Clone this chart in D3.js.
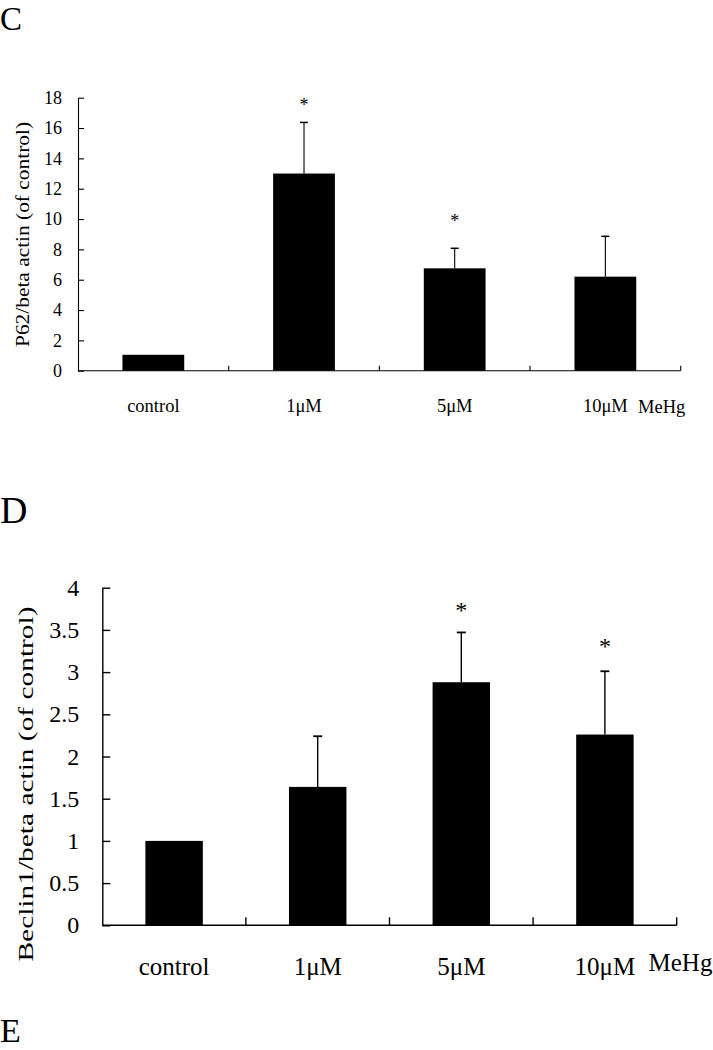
<!DOCTYPE html>
<html>
<head>
<meta charset="utf-8">
<script src="https://cdn.jsdelivr.net/npm/d3@7"></script>
<style>
  body { margin: 0; background: #fff; }
  svg { display: block; }
</style>
</head>
<body>
<div id="chart"></div>
<script>
var SERIF = "'Liberation Serif', 'Times New Roman', serif";

// groups on the x axis (same for both panels)
var categories = ["control", "1\u03bcM", "5\u03bcM", "10\u03bcM"];

// panel C: P62 / beta actin
var p62Values = [1.05, 13.0, 6.75, 6.2];
var p62Errors = [0, 3.37, 1.32, 2.66];
var p62Stars = [null, 17.65, 10.0, null];
var p62Ticks = [0, 2, 4, 6, 8, 10, 12, 14, 16, 18];

// panel D: Beclin1 / beta actin
var beclinValues = [1.0, 1.64, 2.88, 2.26];
var beclinErrors = [0, 0.60, 0.59, 0.75];
var beclinStars = [null, null, 3.77, 3.345];
var beclinTicks = [0, 0.5, 1, 1.5, 2, 2.5, 3, 3.5, 4];

var svg = d3.select("#chart").append("svg").attr("width", 713).attr("height", 1050)
    .attr("font-family", SERIF);

// panel letters
svg.append("text").attr("x", 0).attr("y", 30).style("font-family", SERIF).style("font-size", "33px").text("C");
svg.append("text").attr("x", 0).attr("y", 523).style("font-family", SERIF).style("font-size", "38px").text("D");
svg.append("text").attr("x", 0).attr("y", 1042).style("font-family", SERIF).style("font-size", "34px").text("E");

function drawPanel(opt) {
    var g = svg.append("g");
    var x = d3.scaleBand().domain(categories).range([opt.left, opt.right]).padding(0);
    var y = d3.scaleLinear().domain([0, opt.max]).range([opt.bottom, opt.top]);
    var bw = x.bandwidth() * opt.barFrac;

    // y axis, ticks pointing inward
    var yAxis = d3.axisLeft(y).tickValues(opt.ticks).tickSize(-opt.tick).tickSizeOuter(0)
        .tickPadding(opt.labelPad).tickFormat(d3.format("~g"));
    var ya = g.append("g").attr("transform", "translate(" + opt.left + ",0)").call(yAxis)
        .attr("font-family", SERIF).attr("font-size", opt.tickFont);
    ya.selectAll("path, line").attr("stroke", "#000").attr("stroke-width", opt.lw);
    ya.selectAll("text").style("font-family", SERIF).style("font-size", opt.tickFont + "px").attr("fill", "#000");

    // x labels through an axis with no ticks
    var xAxis = d3.axisBottom(x).tickSize(0).tickPadding(opt.xPad);
    var xa = g.append("g").attr("transform", "translate(0," + opt.bottom + ")").call(xAxis)
        .attr("font-family", SERIF).attr("font-size", opt.xFont);
    xa.select(".domain").remove();
    xa.selectAll("text").style("font-family", SERIF).style("font-size", opt.xFont + "px").attr("fill", "#000");

    // baseline and category boundary ticks (pointing up)
    g.append("line").attr("x1", opt.left).attr("x2", opt.right)
        .attr("y1", opt.bottom).attr("y2", opt.bottom)
        .attr("stroke", "#000").attr("stroke-width", opt.lw);
    g.selectAll(".bt").data(categories).enter().append("line")
        .attr("x1", function (d) { return x(d) + x.step(); })
        .attr("x2", function (d) { return x(d) + x.step(); })
        .attr("y1", opt.bottom).attr("y2", opt.bottom - opt.xTick)
        .attr("stroke", "#000").attr("stroke-width", opt.lw);

    // bars
    g.selectAll(".bar").data(opt.values).enter().append("rect")
        .attr("x", function (d, i) { return x(categories[i]) + (x.bandwidth() - bw) / 2; })
        .attr("y", function (d) { return y(d); })
        .attr("width", bw)
        .attr("height", function (d) { return y(0) - y(d); })
        .attr("fill", "#000");

    // upper error bars
    var cx = function (i) { return x(categories[i]) + x.bandwidth() / 2; };
    opt.values.forEach(function (v, i) {
        var e = opt.errors[i];
        if (!e) return;
        g.append("line").attr("x1", cx(i)).attr("x2", cx(i))
            .attr("y1", y(v)).attr("y2", y(v + e))
            .attr("stroke", "#000").attr("stroke-width", opt.lw);
        g.append("line").attr("x1", cx(i) - opt.cap / 2).attr("x2", cx(i) + opt.cap / 2)
            .attr("y1", y(v + e)).attr("y2", y(v + e))
            .attr("stroke", "#000").attr("stroke-width", opt.lw + 0.4);
    });

    // significance stars
    opt.stars.forEach(function (s, i) {
        if (s == null) return;
        g.append("text").attr("x", cx(i)).attr("y", y(s) + opt.starFont * 0.466)
            .attr("text-anchor", "middle").style("font-family", SERIF)
            .style("font-size", opt.starFont + "px").text("*");
    });

    // y label
    g.append("text")
        .attr("transform", "translate(" + opt.ylX + "," + opt.ylY + ") rotate(-90)")
        .attr("text-anchor", "middle")
        .attr("textLength", opt.ylLen).attr("lengthAdjust", "spacingAndGlyphs")
        .style("font-family", SERIF)
        .style("font-size", opt.ylFont + "px").text(opt.ylabel);

    // MeHg
    g.append("text").attr("x", opt.mehgX).attr("y", opt.mehgY)
        .style("font-family", SERIF)
        .style("font-size", opt.xFont + "px").text("MeHg");
}

drawPanel({
    values: p62Values, errors: p62Errors, stars: p62Stars, ticks: p62Ticks, max: 18,
    left: 78, right: 680.7, top: 97.7, bottom: 370.7, barFrac: 0.41,
    lw: 1.1, tick: 6, xTick: 5, labelPad: 16, tickFont: 18, xFont: 18.5, xPad: 28,
    cap: 8, starFont: 18,
    ylabel: "P62/beta actin (of control)", ylX: 29, ylY: 234.5, ylLen: 225, ylFont: 19,
    mehgX: 638, mehgY: 412.5
});

drawPanel({
    values: beclinValues, errors: beclinErrors, stars: beclinStars, ticks: beclinTicks, max: 4,
    left: 102.3, right: 676.7, top: 587.7, bottom: 925.3, barFrac: 0.40,
    lw: 1.4, tick: 8, xTick: 8, labelPad: 23, tickFont: 24, xFont: 25, xPad: 32,
    cap: 9, starFont: 24,
    ylabel: "Beclin1/beta actin (of control)", ylX: 33, ylY: 784, ylLen: 355, ylFont: 22,
    mehgX: 648.5, mehgY: 971
});
</script>
</body>
</html>
